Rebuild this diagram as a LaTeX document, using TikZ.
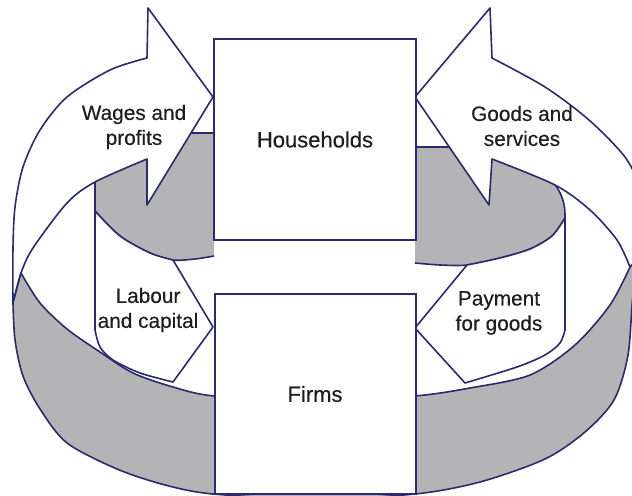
\documentclass[tikz,border=0pt]{standalone}
\usepackage{fontspec}
\setmainfont{Liberation Sans}
\newfontfamily\lblfont{Liberation Sans}[FakeBold=0.35]
\definecolor{lineblue}{RGB}{42,42,108}
\definecolor{bandgray}{RGB}{180,180,182}
\definecolor{textcol}{RGB}{30,30,30}
\begin{document}
\begin{tikzpicture}[x=0.5pt,y=-0.5pt,
  edge/.style={draw=lineblue, line width=0.8pt, line join=round},
  box/.style={draw=lineblue, line width=1pt, fill=white, inner sep=0pt,
    font=\lblfont\fontsize{11}{13}\selectfont, text=textcol},
  lbl/.style={font=\lblfont\fontsize{10.4}{12.5}\selectfont, align=center, text=textcol, inner sep=0pt}]
\useasboundingbox (0,0) rectangle (632,496);
\clip (0,0) rectangle (632,496);
\fill[white] (0,0) rectangle (632,496);

% inner ring: visible back surfaces (grey)
\fill[bandgray] (95,133) -- (214,133) -- (214,256) -- plot[smooth] coordinates {(214,256) (195,259) (173,260) (150,253) (120,236) (95,211)} -- cycle;
\draw[edge] (214,133) -- (95,133) -- plot[smooth] coordinates {(95,211) (120,236) (150,253) (173,260) (195,259) (214,256)};
\fill[bandgray] (415,147) -- (520,147) -- (520,160) .. controls (555,175) and (565,195) .. (565,215) -- plot[smooth] coordinates {(565,218) (552,236) (530,249) (500,258) (467,265) (440,265) (415,263)} -- cycle;
\draw[edge] (415,147) -- (520,147) -- (520,160) .. controls (555,175) and (565,195) .. (565,215) -- plot[smooth] coordinates {(565,218) (552,236) (530,249) (500,258) (467,265) (440,265) (415,263)};

% outer band: left arrow (Wages and profits)
\filldraw[edge, fill=white] plot[smooth] coordinates {(13,303) (13,248) (15,207) (23,167) (40,130) (67,97) (110,70) (147,58)} -- (148,8) -- (213,97) -- (147,205) -- (147,159) -- plot[smooth] coordinates {(147,159) (95,182) (67,203) (33,248) (21,273) (13,303)} -- cycle;

% outer band: right arrow (Goods and services)
\filldraw[edge, fill=white] (492,58) -- (490,8) -- (415,97) -- (489,205) -- (492,159) -- plot[smooth] coordinates {(492,159) (555,185) (590,210) (617,240) (630,267)} -- (648,250) -- plot[smooth] coordinates {(648,250) (650,215) (642,190) (625,157) (589,120) (545,87) (492,58)} -- cycle;

% outer band: front surface (grey)
\filldraw[edge, fill=bandgray] plot[smooth] coordinates {(21,273) (40,303) (67,329) (100,352) (133,373) (173,387) (214,396) (315,402) (415,396) (470,388) (530,375) (575,345) (610,305) (630,267)} -- (648,250) -- plot[smooth] coordinates {(648,250) (640,272) (633,295) (628,355) (614,400) (585,432) (545,459) (480,482) (415,494) (315,499) (213,494) (165,485) (117,469) (67,443) (40,409) (23,376) (15,340) (13,303)} -- cycle;

% inner ring: front pieces with arrows
\filldraw[edge, fill=white] plot[smooth] coordinates {(95,211) (120,236) (150,253) (173,260)} -- (213,327) -- (173,382) -- plot[smooth] coordinates {(173,382) (140,373) (113,360) (100,347) (95,330)} -- cycle;
\filldraw[edge, fill=white] plot[smooth] coordinates {(565,218) (552,236) (530,249) (500,258) (467,265)} -- (415,328) -- (465,383) -- plot[smooth] coordinates {(465,383) (517,367) (545,355) (560,343) (565,330)} -- cycle;

% boxes
\node[box, minimum width=101pt, minimum height=100.5pt] (hh) at (315,139.5) {Households};
\node[box, minimum width=100.5pt, minimum height=100pt] (firms) at (315,394) {Firms};

% labels
\node[lbl] (wages) at (134,127) {Wages and\\profits};
\node[lbl] (goods) at (522,126) {Goods and\\services};
\node[lbl] (labour) at (148,310) {Labour\\and capital};
\node[lbl] (payment) at (499,313) {Payment\\for goods};
\end{tikzpicture}
\end{document}
